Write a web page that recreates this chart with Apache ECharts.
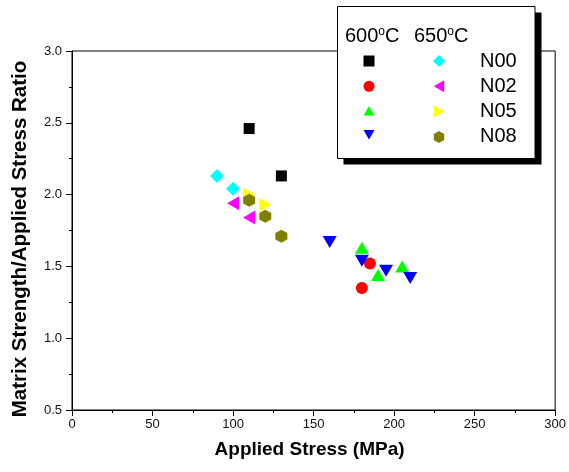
<!DOCTYPE html>
<html><head><meta charset="utf-8">
<script src="https://cdn.jsdelivr.net/npm/echarts@6/dist/echarts.min.js"></script>
<style>html,body{margin:0;padding:0;background:#fff}#c{width:569px;height:472px}</style>
</head><body><div id="c"></div>
<script>
// ---- data ----
const groups = ['N00', 'N02', 'N05', 'N08'];
const temps = ['600', '650'];
const xTicks = [0, 50, 100, 150, 200, 250, 300];
const yTicks = [0.5, 1.0, 1.5, 2.0, 2.5, 3.0];
const n00_600 = [[110, 2.46], [130, 2.13]];
const n02_600 = [[185, 1.52], [180, 1.35]];
const n05_600 = [[180, 1.63], [190, 1.44], [205, 1.50]];
const n08_600 = [[160, 1.67], [180, 1.54], [195, 1.47], [210, 1.42]];
const n00_650 = [[90, 2.13], [100, 2.04]];
const n02_650 = [[100, 1.94], [110, 1.84]];
const n05_650 = [[110, 2.00], [120, 1.93]];
const n08_650 = [[110, 1.96], [120, 1.85], [130, 1.71]];

const FONT = 'Arial, "Liberation Sans", sans-serif';
const diamond = 'path://M1,0 L2,1 L1,2 L0,1 Z';
const hexagon = 'path://M0.866,0 L1.732,0.5 L1.732,1.5 L0.866,2 L0,1.5 L0,0.5 Z';
const triUp = 'path://M1,0 L2,1.73 L0,1.73 Z';
const triDown = 'path://M0,0 L2,0 L1,1.73 Z';
const triLeft = 'path://M0,1 L1.73,0 L1.73,2 Z';
const triRight = 'path://M0,0 L1.73,1 L0,2 Z';

const specs = [
  {name: '600 N00', data: n00_600, symbol: 'rect', size: [11, 11], color: '#000000'},
  {name: '600 N02', data: n02_600, symbol: 'circle', size: 12, color: '#ff0000'},
  {name: '600 N05', data: n05_600, symbol: triUp, size: [14, 12], color: '#00ff00'},
  {name: '600 N08', data: n08_600, symbol: triDown, size: [14, 12], color: '#0000ff'},
  {name: '650 N00', data: n00_650, symbol: diamond, size: [14, 14], color: '#00ffff'},
  {name: '650 N02', data: n02_650, symbol: triLeft, size: [12, 14], color: '#ff00ff'},
  {name: '650 N05', data: n05_650, symbol: triRight, size: [12, 14], color: '#ffff00'},
  {name: '650 N08', data: n08_650, symbol: hexagon, size: [12, 13], color: '#808000'}
];

const series = specs.map(s => ({
  name: s.name, type: 'scatter', data: s.data,
  symbol: s.symbol, symbolSize: s.size,
  itemStyle: {color: s.color, opacity: 1},
  emphasis: {disabled: true}
}));

const degText = t => t + '{s|o}C';
const degRich = {s: {fontFamily: FONT, fontSize: 12, verticalAlign: 'top', lineHeight: 14, padding: [0, 0, 5, 0]}};

const chart = echarts.init(document.getElementById('c'), null, {renderer: 'canvas'});
chart.setOption({
  animation: false,
  backgroundColor: '#ffffff',
  grid: {left: 72, right: 12, top: 51, bottom: 62, show: true, borderColor: '#000', borderWidth: 1, backgroundColor: 'transparent'},
  xAxis: {
    type: 'value', min: xTicks[0], max: xTicks[xTicks.length - 1], interval: 50,
    name: 'Applied Stress (MPa)', nameLocation: 'middle', nameGap: 30,
    nameTextStyle: {fontFamily: FONT, fontWeight: 'bold', fontSize: 19, color: '#000', padding: [0, 8, 0, 0]},
    axisLine: {onZero: false, lineStyle: {color: '#000', width: 1}},
    axisTick: {show: true, inside: false, length: 6, lineStyle: {color: '#000'}},
    minorTick: {show: true, splitNumber: 2, length: 3, lineStyle: {color: '#000'}},
    splitLine: {show: false},
    axisLabel: {fontFamily: FONT, fontSize: 13, color: '#111', margin: 8}
  },
  yAxis: {
    type: 'value', min: yTicks[0], max: yTicks[yTicks.length - 1], interval: 0.5,
    name: 'Matrix Strength/Applied Stress Ratio', nameLocation: 'middle', nameGap: 41,
    nameTextStyle: {fontFamily: FONT, fontWeight: 'bold', fontSize: 20.5, color: '#000', padding: [0, 17, 0, 0]},
    axisLine: {onZero: false, lineStyle: {color: '#000', width: 1}},
    axisTick: {show: true, inside: false, length: 6, lineStyle: {color: '#000'}},
    minorTick: {show: true, splitNumber: 2, length: 3, lineStyle: {color: '#000'}},
    splitLine: {show: false},
    axisLabel: {fontFamily: FONT, fontSize: 13, color: '#111', margin: 10, formatter: v => v.toFixed(1)}
  },
  graphic: [
    {type: 'rect', z: 50, shape: {x: 343.5, y: 12.5, width: 198, height: 152},
     style: {fill: '#000', stroke: null}},
    {type: 'rect', z: 51, shape: {x: 337.5, y: 6.5, width: 197.5, height: 152},
     style: {fill: '#fff', stroke: '#000', lineWidth: 1}},
    {type: 'text', z: 52, left: 345, top: 26,
     style: {text: degText(temps[0]), fontFamily: FONT, fontSize: 20, fill: '#000', rich: degRich}},
    {type: 'text', z: 52, left: 414, top: 26,
     style: {text: degText(temps[1]), fontFamily: FONT, fontSize: 20, fill: '#000', rich: degRich}}
  ],
  legend: [
    {data: specs.slice(0, 4).map(s => s.name), orient: 'vertical', left: 358.5, top: 50.5, z: 60,
     itemGap: 14.3, itemWidth: 11, itemHeight: 11, formatter: () => '', selectedMode: false,
     textStyle: {fontSize: 20, fontFamily: FONT, lineHeight: 18}},
    {data: specs.slice(4).map(s => s.name), orient: 'vertical', left: 428, top: 46, z: 60,
     itemGap: 5.3, itemWidth: 12, itemHeight: 12, selectedMode: false,
     formatter: name => name.split(' ')[1],
     textStyle: {fontSize: 20, fontFamily: FONT, color: '#000', lineHeight: 18, padding: [0, 0, 0, 30]}}
  ],
  series: series
});
</script></body></html>
